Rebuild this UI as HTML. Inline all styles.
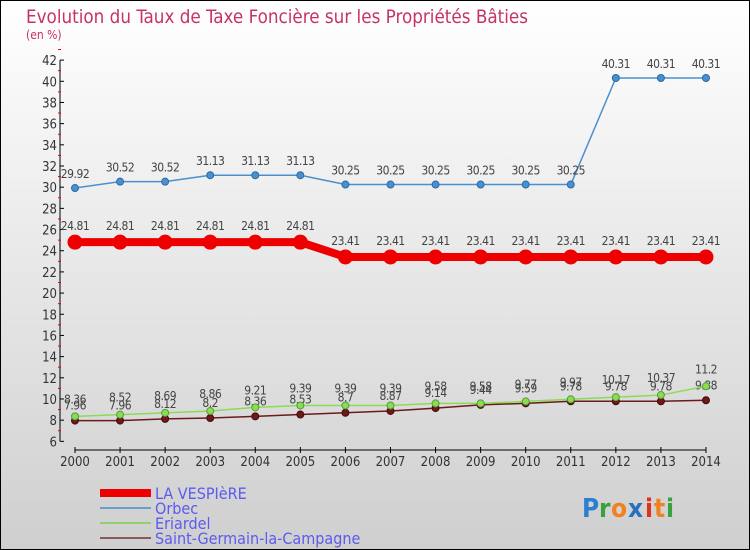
<!DOCTYPE html>
<html><head><meta charset="utf-8"><style>
body{margin:0;width:750px;height:550px;overflow:hidden;font-family:"DejaVu Sans Condensed","Liberation Sans Narrow","Liberation Sans",sans-serif;}
svg{display:block}
</style></head><body>
<svg width="750" height="550" viewBox="0 0 750 550" xmlns="http://www.w3.org/2000/svg">
<defs><linearGradient id="bg" x1="0" y1="0" x2="0" y2="1"><stop offset="0" stop-color="#ffffff"/><stop offset="1" stop-color="#cfcfcf"/></linearGradient></defs>
<rect x="0.5" y="0.5" width="749" height="549" fill="url(#bg)" stroke="#000"/>
<text x="26" y="23" font-size="19" fill="#c8306a" textLength="502" lengthAdjust="spacingAndGlyphs">Evolution du Taux de Taxe Foncière sur les Propriétés Bâties</text>
<text x="26" y="39" font-size="12" fill="#c8306a">(en %)</text>
<g id="axes"></g>
<g id="series"></g>
<g>
<rect x="100" y="489" width="51" height="8" fill="#ee0000"/>
<text x="155" y="499" font-size="16" fill="#5b5bf0">LA VESPIèRE</text>
<rect x="100" y="507" width="51" height="2" fill="#6a9fc8"/>
<text x="155" y="514" font-size="16" fill="#5b5bf0">Orbec</text>
<rect x="100" y="522" width="51" height="2" fill="#90d070"/>
<text x="155" y="529" font-size="16" fill="#5b5bf0">Eriardel</text>
<rect x="100" y="537" width="51" height="2" fill="#8a5a5a"/>
<text x="155" y="544" font-size="16" fill="#5b5bf0">Saint-Germain-la-Campagne</text>
</g>
<g font-size="26" font-weight="bold">
<text x="582" y="517" fill="#2a7fd0">P</text><text x="599" y="517" fill="#3aa040">r</text><text x="611" y="517" fill="#f08020">o</text><text x="628" y="517" fill="#2a70c0">x</text><text x="645" y="517" fill="#e03020">i</text><text x="654" y="517" fill="#f08020">t</text><text x="666" y="517" fill="#3aa040">i</text>
</g>
</svg>
<script>
const years=[2000,2001,2002,2003,2004,2005,2006,2007,2008,2009,2010,2011,2012,2013,2014];
const yTicks=[6,8,10,12,14,16,18,20,22,24,26,28,30,32,34,36,38,40,42];
const vespiere=[24.81,24.81,24.81,24.81,24.81,24.81,23.41,23.41,23.41,23.41,23.41,23.41,23.41,23.41,23.41];
const orbec=[29.92,30.52,30.52,31.13,31.13,31.13,30.25,30.25,30.25,30.25,30.25,30.25,40.31,40.31,40.31];
const eriardel=[8.36,8.52,8.69,8.86,9.21,9.39,9.39,9.39,9.58,9.58,9.77,9.97,10.17,10.37,11.2];
const stgermain=[7.96,7.96,8.12,8.2,8.36,8.53,8.7,8.87,9.14,9.44,9.59,9.78,9.78,9.78,9.88];
const NS="http://www.w3.org/2000/svg";
const X=i=>75+i*45.07;
const Y=v=>60.1+(42-v)*10.59;
function mk(t,a,p){const e=document.createElementNS(NS,t);for(const k in a)e.setAttribute(k,a[k]);p.appendChild(e);return e;}
const ax=document.getElementById('axes');
const yl=mk('line',{x1:60,y1:Y(42),x2:60,y2:Y(6),stroke:'#000'},ax);


yTicks.forEach(v=>{
 mk('line',{x1:60,x2:64,y1:Y(v),y2:Y(v),stroke:'#000'},ax);
 mk('line',{x1:58,x2:61,y1:Y(v+1),y2:Y(v+1),stroke:'#e00'},ax);
 const t=mk('text',{x:57,y:Y(v)+5,'font-size':13,'text-anchor':'end',fill:'#333'},ax);t.textContent=v;
 
 
});
const xl=mk('line',{x1:X(0),y1:450,x2:X(14),y2:450,stroke:'#000'},ax);


years.forEach((y,i)=>{
 mk('line',{x1:X(i),x2:X(i),y1:447,y2:453,stroke:'#000'},ax);
 const t=mk('text',{x:X(i),y:466,'font-size':13,'text-anchor':'middle',fill:'#333'},ax);t.textContent=y;
 
 
});
const sg=document.getElementById('series');
function series(vals,name,color,w,r,stroke,labelDy){
 const g=mk('g',{},sg);
 
 
 mk('polyline',{points:vals.map((v,i)=>X(i)+','+Y(v)).join(' '),fill:'none',stroke:color,'stroke-width':w,'stroke-linejoin':'round'},g);
 vals.forEach((v,i)=>{
  const c=mk('circle',{cx:X(i),cy:Y(v),r:r,fill:color,stroke:stroke,'stroke-width':1},g);
  
  
  const t=mk('text',{x:X(i),y:Y(v)+labelDy,'font-size':12,'text-anchor':'middle',fill:'#444','letter-spacing':'-0.5'},g);
  t.textContent=String(v);
  
  
 });
}
series(stgermain,'saint-germain','#6a1a1a',1.5,3.5,'#4a0a0a',-11);
series(eriardel,'eriardel','#88dd55',1.5,3.5,'#5a9a3a',-13);
series(orbec,'orbec','#4a90d0',1.5,3.5,'#2a6aa0',-10);
series(vespiere,'la-vespiere','#ee0000',8,7,'#ee0000',-12);
</script>
</body></html>
